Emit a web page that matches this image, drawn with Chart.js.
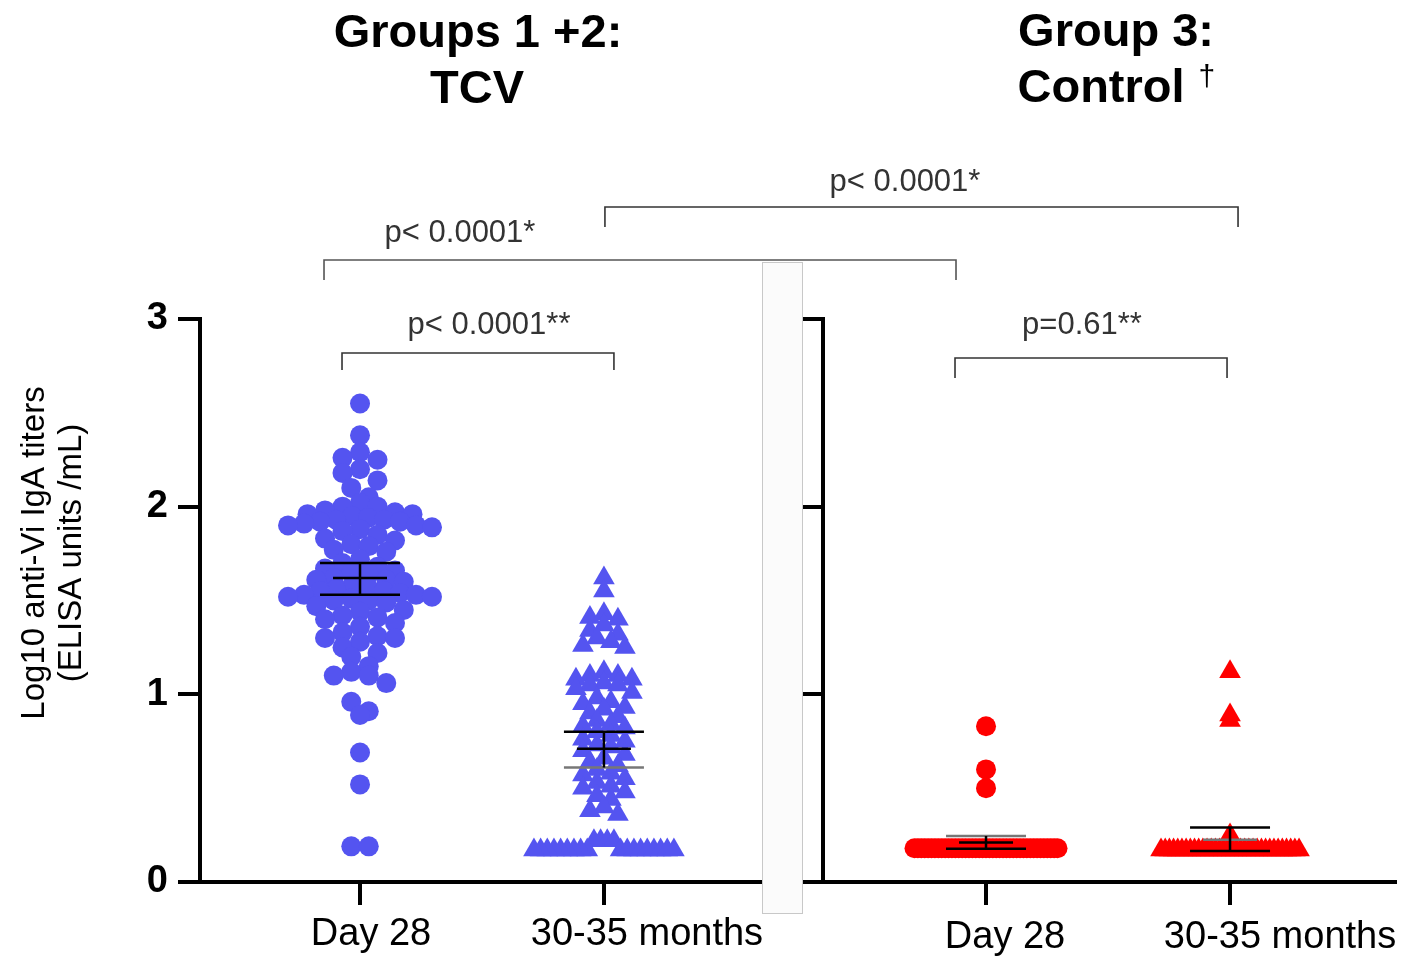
<!DOCTYPE html>
<html>
<head>
<meta charset="utf-8">
<script src="https://cdn.jsdelivr.net/npm/chart.js@4/dist/chart.umd.min.js"></script>
<style>
  html, body { margin: 0; padding: 0; background: #fff; }
  #wrap { position: relative; width: 1404px; height: 957px; }
  #wrap canvas { position: absolute; left: 0; top: 0; }
</style>
</head>
<body>
<div id="wrap">
  <canvas id="chartL" width="1404" height="957"></canvas>
  <canvas id="chartR" width="1404" height="957"></canvas>
</div>
<script>
// --- data ---
const categories = ["Day 28", "30-35 months"];
const panelTitles = [["Groups 1 +2:", "TCV"], ["Group 3:", "Control"]];
const yTicks = [0, 1, 2, 3];
const yTitle = ["Log10 anti-Vi IgA titers", "(ELISA units /mL)"];

const tcvDay28 = [
  2.55, 2.38, 2.29, 2.26, 2.25, 2.20, 2.18, 2.14, 2.10, 2.05, 2.02, 2.00, 2.00,
  1.98, 1.97, 1.96, 1.96, 1.95, 1.94, 1.93, 1.93, 1.92, 1.92, 1.91, 1.90, 1.90, 1.89, 1.88, 1.87,
  1.85, 1.83, 1.82, 1.80, 1.79, 1.77, 1.76,
  1.72, 1.70, 1.68, 1.67, 1.66, 1.65, 1.64, 1.62, 1.61, 1.61, 1.60,
  1.58, 1.57, 1.56, 1.55, 1.55, 1.54, 1.53, 1.53, 1.52, 1.52, 1.51, 1.50, 1.50, 1.49,
  1.47, 1.45, 1.44, 1.42, 1.41, 1.40, 1.38, 1.36,
  1.33, 1.31, 1.30, 1.30, 1.28, 1.25, 1.22, 1.20,
  1.15, 1.12, 1.10, 1.10, 1.06,
  0.96, 0.91, 0.89, 0.69, 0.52, 0.19, 0.19
];
const tcvMonths = [
  1.62, 1.55,
  1.43, 1.41, 1.40, 1.37, 1.34, 1.32, 1.30, 1.28, 1.26, 1.25,
  1.12, 1.10, 1.10, 1.08, 1.08, 1.06, 1.05, 1.05, 1.03, 1.01,
  0.98, 0.96, 0.95, 0.93, 0.92, 0.90,
  0.88, 0.86, 0.84, 0.83, 0.82, 0.80,
  0.78, 0.76, 0.75, 0.73, 0.72, 0.70, 0.68,
  0.66, 0.64, 0.62, 0.60, 0.58, 0.57, 0.55,
  0.53, 0.51, 0.50, 0.48, 0.46, 0.44,
  0.40, 0.38, 0.36,
  0.22, 0.22, 0.22, 0.22,
  0.17, 0.17, 0.17, 0.17, 0.17, 0.17, 0.17, 0.17, 0.17,
  0.17, 0.17, 0.17, 0.17, 0.17, 0.17, 0.17, 0.17, 0.17
];
const ctrlDay28 = [
  0.83, 0.60, 0.50,
  0.18, 0.18, 0.18, 0.18, 0.18, 0.18, 0.18, 0.18, 0.18, 0.18,
  0.18, 0.18, 0.18, 0.18, 0.18, 0.18, 0.18, 0.18, 0.18, 0.18,
  0.18, 0.18, 0.18, 0.18, 0.18, 0.18, 0.18, 0.18, 0.18, 0.18,
  0.18, 0.18, 0.18, 0.18, 0.18, 0.18, 0.18, 0.18, 0.18, 0.18,
  0.18, 0.18, 0.18
];
const ctrlMonths = [
  1.12, 0.89, 0.86, 0.25,
  0.17, 0.17, 0.17, 0.17, 0.17, 0.17, 0.17, 0.17, 0.17, 0.17,
  0.17, 0.17, 0.17, 0.17, 0.17, 0.17, 0.17, 0.17, 0.17, 0.17,
  0.17, 0.17, 0.17, 0.17, 0.17, 0.17, 0.17, 0.17, 0.17, 0.17,
  0.17, 0.17, 0.17, 0.17
];
// [lower CI, mean, upper CI] per category
const tcvStats = [[1.53, 1.62, 1.70], [0.61, 0.71, 0.80]];
const ctrlStats = [[0.177, 0.21, 0.245], [0.165, 0.225, 0.29]];
const pLabels = ["p< 0.0001**", "p=0.61**", "p< 0.0001*", "p< 0.0001*"];

// --- styling ---
const FONT = '"Liberation Sans", Arial, Helvetica, sans-serif';
const BLUE = "#5454F0";
const RED = "#FF0000";
const PX_PER_X = 244;

// Prism-like column scatter: points grouped in rows, spread around the category
function swarm(vals, cat, binH, step, halfMax) {
  const sorted = [...vals].sort((a, b) => b - a);
  const pts = [];
  let i = 0;
  while (i < sorted.length) {
    let j = i;
    while (j < sorted.length && sorted[i] - sorted[j] <= binH + 1e-9) j++;
    const row = sorted.slice(i, j);
    const n = row.length;
    const sp = n > 1 ? Math.min(step, (2 * halfMax) / (n - 1)) : 0;
    const slots = [];
    for (let k = 0; k < n; k++) slots.push((k - (n - 1) / 2) * sp);
    slots.sort((a, b) => Math.abs(a) - Math.abs(b) || a - b);
    row.forEach((v, k) => pts.push({ x: cat + slots[k] / PX_PER_X, y: v }));
    i = j;
  }
  return pts;
}

function hline(ctx, x1, x2, y, color, w) {
  ctx.strokeStyle = color;
  ctx.lineWidth = w;
  ctx.beginPath();
  ctx.moveTo(x1, y);
  ctx.lineTo(x2, y);
  ctx.stroke();
}

function drawStats(chart, stats, colors) {
  const { ctx, scales: { x, y } } = chart;
  ctx.save();
  stats.forEach((s, i) => {
    const cx = x.getPixelForValue(i + 1);
    const lo = y.getPixelForValue(s[0]);
    const mid = y.getPixelForValue(s[1]);
    const hi = y.getPixelForValue(s[2]);
    hline(ctx, cx - 40, cx + 40, hi, colors[i][0], 2.5);
    hline(ctx, cx - 27, cx + 27, mid, colors[i][1], 2.5);
    hline(ctx, cx - 40, cx + 40, lo, colors[i][2], 2.5);
    ctx.strokeStyle = "#000";
    ctx.lineWidth = 2.5;
    ctx.beginPath();
    ctx.moveTo(cx, hi);
    ctx.lineTo(cx, lo);
    ctx.stroke();
  });
  ctx.restore();
}

function drawXLabels(chart, shifts, ly) {
  const { ctx, scales: { x } } = chart;
  ctx.save();
  ctx.font = "38px " + FONT;
  ctx.fillStyle = "#000";
  ctx.textAlign = "center";
  ctx.textBaseline = "middle";
  categories.forEach((c, i) => ctx.fillText(c, x.getPixelForValue(i + 1) + shifts[i], ly));
  ctx.restore();
}

function bracket(ctx, x1, x2, y, drop, text, tx, ty, color) {
  ctx.save();
  ctx.strokeStyle = color || "#333";
  ctx.lineWidth = 1.6;
  ctx.beginPath();
  ctx.moveTo(x1, y + drop);
  ctx.lineTo(x1, y);
  ctx.lineTo(x2, y);
  ctx.lineTo(x2, y + drop);
  ctx.stroke();
  ctx.font = "31px " + FONT;
  ctx.fillStyle = "#333";
  ctx.textAlign = "center";
  ctx.textBaseline = "middle";
  ctx.fillText(text, tx, ty);
  ctx.restore();
}

function scatterSet(label, pts, style, radius, color) {
  return {
    label: label,
    data: pts,
    pointStyle: style,
    pointRadius: radius,
    pointHoverRadius: radius,
    backgroundColor: color,
    borderWidth: 0,
    clip: false,
  };
}

function axes(xmin, xmax, yWidth, showYLabels) {
  return {
    x: {
      type: "linear",
      min: xmin,
      max: xmax,
      afterBuildTicks: (s) => { s.ticks = categories.map((c, i) => ({ value: i + 1 })); },
      afterFit: (s) => { s.height = 75; },
      ticks: { display: false },
      grid: { drawOnChartArea: false, drawTicks: true, tickLength: 23, lineWidth: 4, color: "#000" },
      border: { display: true, color: "#000", width: 4 },
    },
    y: {
      min: 0,
      max: 3,
      afterBuildTicks: (s) => { s.ticks = yTicks.map((v) => ({ value: v })); },
      afterFit: (s) => { s.width = yWidth; },
      ticks: {
        display: showYLabels,
        padding: 10,
        color: "#000",
        font: { family: FONT, size: 38, weight: "bold" },
      },
      grid: { drawOnChartArea: false, drawTicks: true, tickLength: 22, lineWidth: 4, color: "#000" },
      border: { display: true, color: "#000", width: 4 },
    },
  };
}

const baseOpts = {
  responsive: false,
  animation: false,
  events: [],
  plugins: { legend: { display: false }, tooltip: { enabled: false } },
};

// --- left panel: TCV groups ---
const leftDecor = {
  id: "leftDecor",
  afterDraw(chart) {
    const { ctx, scales: { x } } = chart;
    drawStats(chart, tcvStats, [["#000", "#000", "#000"], ["#000", "#000", "#777"]]);
    drawXLabels(chart, [11, 43], 935);

    const mid = (x.getPixelForValue(1) + x.getPixelForValue(2)) / 2;
    ctx.save();
    ctx.fillStyle = "#000";
    ctx.textAlign = "center";
    ctx.textBaseline = "alphabetic";
    ctx.font = "bold 47px " + FONT;
    ctx.fillText(panelTitles[0][0], mid - 4, 47);
    ctx.fillText(panelTitles[0][1], mid - 5, 103);

    // y axis title, rotated
    ctx.font = "33px " + FONT;
    ctx.textBaseline = "middle";
    ctx.translate(0, 553);
    ctx.rotate(-Math.PI / 2);
    ctx.fillText(yTitle[0], 0, 35);
    ctx.fillText(yTitle[1], 0, 72);
    ctx.restore();

    bracket(ctx, x.getPixelForValue(1) - 18, x.getPixelForValue(2) + 10, 353, 17, pLabels[0], 489, 325);
  },
};

const chartL = new Chart(document.getElementById("chartL"), {
  type: "scatter",
  data: {
    datasets: [
      scatterSet(categories[0], swarm(tcvDay28, 1, 0.065, 17.5, 72), "circle", 10, BLUE),
      scatterSet(categories[1], swarm(tcvMonths, 2, 0.05, 14, 70), "triangle", 12.5, BLUE),
    ],
  },
  options: Object.assign({}, baseOpts, {
    layout: { autoPadding: false, padding: { left: 0, right: 642, top: 319, bottom: 0 } },
    scales: axes(0.344, 2.648, 200, true),
  }),
  plugins: [leftDecor],
});

// --- right panel: control group, plus the brackets that cross panels ---
const rightDecor = {
  id: "rightDecor",
  afterDraw(chart) {
    const { ctx, scales: { x } } = chart;
    drawStats(chart, ctrlStats, [["#777", "#000", "#000"], ["#000", "#777", "#000"]]);
    drawXLabels(chart, [19, 50], 938);

    const mid = (x.getPixelForValue(1) + x.getPixelForValue(2)) / 2;
    ctx.save();
    ctx.fillStyle = "#000";
    ctx.textBaseline = "alphabetic";
    ctx.textAlign = "center";
    ctx.font = "bold 47px " + FONT;
    ctx.fillText(panelTitles[1][0], mid + 8, 46);
    const w1 = ctx.measureText(panelTitles[1][1]).width;
    ctx.textAlign = "left";
    const left = mid + 8 - (w1 + 30) / 2;
    ctx.fillText(panelTitles[1][1], left, 102);
    ctx.font = "30px " + FONT;
    ctx.fillText("\u2020", left + w1 + 14, 86);
    ctx.restore();

    bracket(ctx, x.getPixelForValue(1) - 31, x.getPixelForValue(2) - 3, 358, 20, pLabels[1], 1082, 325);

    // blank strip between the two panels
    ctx.save();
    ctx.fillStyle = "#fbfbfb";
    ctx.fillRect(762, 262, 40, 651);
    ctx.strokeStyle = "#c8c8c8";
    ctx.lineWidth = 1;
    ctx.strokeRect(762.5, 262.5, 40, 651);
    ctx.restore();

    const lx = chartL.scales.x;
    bracket(ctx, lx.getPixelForValue(1) - 36, x.getPixelForValue(1) - 30, 260, 20, pLabels[2], 460, 233, "#555");
    bracket(ctx, lx.getPixelForValue(2) + 1, x.getPixelForValue(2) + 8, 207, 20, pLabels[3], 905, 182);
  },
};

const chartR = new Chart(document.getElementById("chartR"), {
  type: "scatter",
  data: {
    datasets: [
      scatterSet(categories[0], swarm(ctrlDay28, 1, 0.02, 18, 71.5), "circle", 10, RED),
      scatterSet(categories[1], swarm(ctrlMonths, 2, 0.02, 14, 69), "triangle", 12.5, RED),
    ],
  },
  options: Object.assign({}, baseOpts, {
    layout: { autoPadding: false, padding: { left: 803, right: 9, top: 319, bottom: 0 } },
    scales: axes(0.332, 2.676, 20, false),
  }),
  plugins: [rightDecor],
});
</script>
</body>
</html>
